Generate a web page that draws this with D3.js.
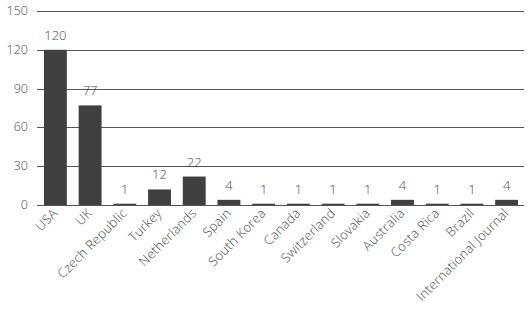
<!DOCTYPE html>
<html><head><meta charset="utf-8">
<script src="https://cdn.jsdelivr.net/npm/d3@7"></script>
<style>body{margin:0;background:#fff}svg{display:block}text{font-family:"Open Sans",sans-serif;font-weight:300}</style>
</head><body><svg id="c" width="528" height="309"></svg>
<script>
const categories = ["USA","UK","Czech Republic","Turkey","Netherlands","Spain","South Korea","Canada","Switzerland","Slovakia","Australia","Costa Rica","Brazil","International Journal"];
const values = [120,77,1,12,22,4,1,1,1,1,4,1,1,4];
const yTicks = [0,30,60,90,120,150];

const svg = d3.select("#c");
const x = d3.scaleBand().domain(categories).range([37,525]).paddingInner(0.34).paddingOuter(0.2);
const y = d3.scaleLinear().domain([0,150]).range([205,11]);

svg.append("g").selectAll("line").data(yTicks).join("line")
  .attr("x1",37).attr("x2",524).attr("y1",d=>Math.round(y(d))+0.5).attr("y2",d=>Math.round(y(d))+0.5)
  .attr("stroke","#555").attr("stroke-width",1);

svg.append("g").selectAll("text").data(yTicks).join("text")
  .attr("x",28).attr("y",d=>y(d)+4).attr("text-anchor","end")
  .attr("font-size",12.5).attr("fill","#4a4a4a").text(d=>d);

svg.append("g").selectAll("rect").data(values).join("rect")
  .attr("x",(d,i)=>x(categories[i])).attr("width",x.bandwidth())
  .attr("y",d=>y(d)).attr("height",d=>y(0)-y(d)).attr("fill","#404040");

svg.append("g").selectAll("text").data(values).join("text")
  .attr("x",(d,i)=>x(categories[i])+x.bandwidth()/2).attr("y",d=>y(d)-10)
  .attr("text-anchor","middle").attr("font-size",13).attr("fill","#4a4a4a").text(d=>d);

svg.append("g").selectAll("text").data(categories).join("text")
  .attr("transform",d=>`translate(${x(d)+x.bandwidth()/2+3},${214}) rotate(-45)`)
  .attr("text-anchor","end").attr("font-size",13).attr("letter-spacing",0.25).attr("fill","#4a4a4a").text(d=>d);
</script></body></html>
